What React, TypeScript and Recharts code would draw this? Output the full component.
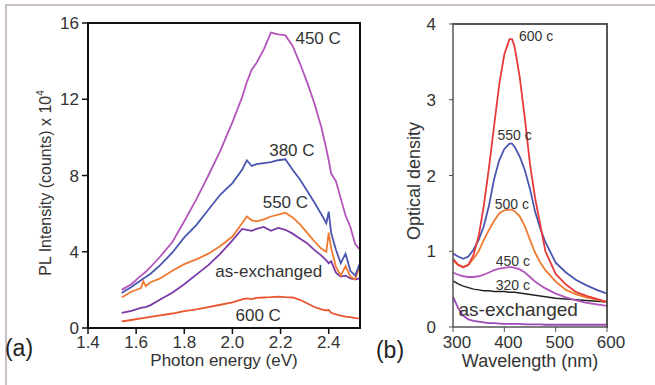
import {
  LineChart,
  Line,
  XAxis,
  YAxis,
  ReferenceDot,
} from "recharts";

// (a) PL spectra, intensity in units of 10^4 counts
const energy = [
  1.54, 1.58, 1.62, 1.63, 1.64, 1.66, 1.7, 1.75, 1.8, 1.85, 1.9, 1.95, 2.0, 2.04, 2.06, 2.08,
  2.1, 2.13, 2.16, 2.19, 2.22, 2.25, 2.28, 2.31, 2.34, 2.37, 2.39, 2.4, 2.41, 2.43, 2.45, 2.47,
  2.49, 2.51, 2.53,
];
const pl450 = [
  2.0, 2.3, 2.75, 2.85, 2.95, 3.2, 3.75, 4.5, 5.6, 6.75, 8.0, 9.3, 10.8, 12.1, 12.9, 13.55,
  13.9, 14.6, 15.5, 15.4, 15.35, 14.8, 13.9, 12.9, 11.8, 10.5, 9.4, 8.8, 8.1, 7.7, 6.8, 5.9,
  5.3, 4.4, 4.1,
];
const pl380 = [
  1.84, 2.15, 2.5, 2.6, 2.68, 2.85, 3.3, 3.95, 4.75, 5.4, 6.2, 7.0, 7.6, 8.3, 8.8, 8.5,
  8.6, 8.65, 8.7, 8.8, 8.85, 8.3, 7.8, 7.2, 6.6, 5.95, 5.5, 6.1, 5.0, 4.1, 3.4, 3.9,
  3.0, 2.75, 3.4,
];
const pl550 = [
  1.6, 1.9, 2.1, 2.45, 2.2, 2.4, 2.6, 3.0, 3.35, 3.6, 3.9, 4.3, 4.8, 5.5, 5.85, 5.65,
  5.6, 5.7, 5.85, 5.95, 6.05, 5.8, 5.45, 5.0, 4.55, 4.15, 4.0, 5.0, 4.2, 3.2, 2.75, 3.25,
  2.7, 2.55, 3.3,
];
const plExchanged = [
  0.79, 0.9, 1.05, 1.08, 1.1, 1.2, 1.5, 1.85, 2.3, 2.8, 3.3, 3.9, 4.6, 5.2, 5.15, 5.1,
  5.2, 5.3, 5.1, 5.25, 5.15, 4.95, 4.7, 4.45, 4.1, 3.8, 3.55, 3.4, 3.5, 2.9, 2.7, 2.75,
  2.6, 2.55, 2.6,
];
const pl600 = [
  0.35, 0.42, 0.5, 0.52, 0.54, 0.58, 0.66, 0.76, 0.88, 0.98, 1.1, 1.22, 1.35, 1.5, 1.55, 1.52,
  1.58, 1.6, 1.62, 1.65, 1.62, 1.6, 1.48, 1.3, 1.1, 0.98, 0.92, 0.95, 0.8, 0.72, 0.65, 0.6,
  0.57, 0.52, 0.5,
];
const energyTicks = [1.4, 1.6, 1.8, 2.0, 2.2, 2.4];
const plTicks = [0, 4, 8, 12, 16];

// (b) optical density spectra
const wavelength = [
  300, 310, 320, 330, 340, 350, 360, 370, 380, 390, 400, 410, 415, 420, 430, 440, 450, 460,
  470, 480, 500, 520, 540, 560, 580, 600,
];
const od600 = [
  0.9, 0.82, 0.79, 0.82, 0.95, 1.2, 1.6, 2.1, 2.65, 3.2, 3.6, 3.8, 3.8, 3.7, 3.3, 2.75, 2.15, 1.7,
  1.35, 1.0, 0.7, 0.56, 0.46, 0.41, 0.37, 0.33,
];
const od550 = [
  0.97, 0.93, 0.9, 0.93, 1.02, 1.15, 1.33, 1.6, 1.95, 2.2, 2.35, 2.42, 2.42, 2.38, 2.25, 2.07,
  1.82, 1.52, 1.3, 1.12, 0.85, 0.72, 0.62, 0.55, 0.49, 0.44,
];
const od500 = [
  0.88, 0.82, 0.79, 0.82, 0.9, 1.0, 1.15, 1.28, 1.4, 1.5, 1.54, 1.55, 1.55, 1.53, 1.46, 1.33,
  1.15, 0.98, 0.85, 0.75, 0.6, 0.49, 0.43, 0.39, 0.36, 0.33,
];
const od450 = [
  0.72, 0.69, 0.67, 0.66, 0.66, 0.67, 0.69, 0.72, 0.75, 0.77, 0.78, 0.79, 0.79, 0.78, 0.76, 0.72,
  0.66, 0.6, 0.55, 0.51, 0.44, 0.39, 0.35, 0.32, 0.3, 0.28,
];
const od320 = [
  0.61, 0.57, 0.54, 0.52, 0.5, 0.49, 0.48, 0.48, 0.47, 0.47, 0.47, 0.46, 0.46, 0.46, 0.45, 0.44,
  0.43, 0.42, 0.41, 0.4, 0.38, 0.37, 0.36, 0.35, 0.34, 0.33,
];
const odExchanged = [
  0.4, 0.25, 0.15, 0.1, 0.08, 0.07, 0.06, 0.05, 0.05, 0.045, 0.04, 0.04, 0.04, 0.04, 0.04, 0.035,
  0.035, 0.035, 0.035, 0.03, 0.03, 0.03, 0.03, 0.03, 0.03, 0.03,
];
const wavelengthTicks = [300, 400, 500, 600];
const odTicks = [0, 1, 2, 3, 4];

const plData = energy.map((e, i) => ({
  e,
  s450: pl450[i],
  s380: pl380[i],
  s550: pl550[i],
  exch: plExchanged[i],
  s600: pl600[i],
}));

const odData = wavelength.map((w, i) => ({
  w,
  s600: od600[i],
  s550: od550[i],
  s500: od500[i],
  s450: od450[i],
  s320: od320[i],
  exch: odExchanged[i],
}));

const FONT = "'Liberation Sans', Arial, sans-serif";
const TEXT = "#333";

function curveLabel(x: number, y: number, text: string, size: number) {
  return (
    <ReferenceDot
      key={text + x}
      x={x}
      y={y}
      r={0}
      stroke="none"
      label={{ value: text, position: "center", fill: TEXT, fontSize: size }}
    />
  );
}

// plain line pieces that close the plot boxes on top and right
function Edge(props: { left: number; top: number; width: number; height: number; color: string }) {
  return (
    <div
      style={{
        position: "absolute",
        zIndex: 5,
        left: props.left,
        top: props.top,
        width: props.width,
        height: props.height,
        background: props.color,
      }}
    />
  );
}

export default function App() {
  return (
    <div
      style={{
        position: "absolute",
        left: 0,
        top: 0,
        width: 655,
        height: 385,
        overflow: "hidden",
        background: "#fff",
        fontFamily: FONT,
      }}
    >
      <div
        style={{
          position: "absolute",
          left: 5,
          top: 4,
          width: 700,
          height: 420,
          borderTop: "2px solid #cbbfcb",
          borderLeft: "2px solid #cbbfcb",
        }}
      />

      <div style={{ position: "absolute", left: 0, top: 0 }}>
        <LineChart
          width={370}
          height={385}
          data={plData}
          margin={{ top: 23, right: 10, bottom: 27, left: 0 }}
        >
          <XAxis
            dataKey="e"
            type="number"
            domain={[1.4, 2.53]}
            ticks={energyTicks}
            tickFormatter={(v: number) => v.toFixed(1)}
            height={30}
            tickSize={6}
            tickMargin={2}
            axisLine={{ stroke: "#111", strokeWidth: 2 }}
            tickLine={{ stroke: "#111", strokeWidth: 1.5 }}
            tick={{ fill: TEXT, fontSize: 17 }}
          />
          <YAxis
            type="number"
            domain={[0, 16]}
            ticks={plTicks}
            width={88}
            tickSize={6}
            tickMargin={3}
            axisLine={{ stroke: "#111", strokeWidth: 2 }}
            tickLine={{ stroke: "#111", strokeWidth: 1.5 }}
            tick={{ fill: TEXT, fontSize: 17 }}
          />
          <Line dataKey="s600" stroke="#e8552e" strokeWidth={1.8} dot={false} isAnimationActive={false} />
          <Line dataKey="exch" stroke="#7a3aa8" strokeWidth={1.8} dot={false} isAnimationActive={false} />
          <Line dataKey="s550" stroke="#f07a30" strokeWidth={1.8} dot={false} isAnimationActive={false} />
          <Line dataKey="s380" stroke="#4a56b0" strokeWidth={1.8} dot={false} isAnimationActive={false} />
          <Line dataKey="s450" stroke="#b455bc" strokeWidth={1.8} dot={false} isAnimationActive={false} />
          {curveLabel(2.356, 15.23, "450 C", 17)}
          {curveLabel(2.247, 9.35, "380 C", 17)}
          {curveLabel(2.22, 6.63, "550 C", 17)}
          {curveLabel(2.151, 2.99, "as-exchanged", 17)}
          {curveLabel(2.107, 0.7, "600 C", 17)}
        </LineChart>
      </div>
      <Edge left={87} top={22} width={274} height={2} color="#111" />
      <Edge left={359} top={22} width={2} height={307} color="#111" />

      <div style={{ position: "absolute", left: 370, top: 0 }}>
        <LineChart
          width={285}
          height={385}
          data={odData}
          margin={{ top: 24, right: 48, bottom: 28, left: 0 }}
        >
          <XAxis
            dataKey="w"
            type="number"
            domain={[300, 600]}
            ticks={wavelengthTicks}
            height={30}
            tickSize={5}
            tickMargin={4}
            axisLine={{ stroke: "#555", strokeWidth: 1.5 }}
            tickLine={{ stroke: "#555" }}
            tick={{ fill: TEXT, fontSize: 17, dx: 4 }}
          />
          <YAxis
            type="number"
            domain={[0, 4]}
            ticks={odTicks}
            width={83}
            tickSize={4}
            tickMargin={13}
            axisLine={{ stroke: "#555", strokeWidth: 1.5 }}
            tickLine={{ stroke: "#555" }}
            tick={{ fill: TEXT, fontSize: 17 }}
          />
          <Line dataKey="exch" stroke="#9a48b8" strokeWidth={1.8} dot={false} isAnimationActive={false} />
          <Line dataKey="s320" stroke="#222" strokeWidth={1.5} dot={false} isAnimationActive={false} />
          <Line dataKey="s450" stroke="#b455bc" strokeWidth={1.8} dot={false} isAnimationActive={false} />
          <Line dataKey="s500" stroke="#f07a30" strokeWidth={1.8} dot={false} isAnimationActive={false} />
          <Line dataKey="s550" stroke="#4a56b0" strokeWidth={1.8} dot={false} isAnimationActive={false} />
          <Line dataKey="s600" stroke="#e83a3a" strokeWidth={1.8} dot={false} isAnimationActive={false} />
          {curveLabel(462, 3.84, "600 c", 14)}
          {curveLabel(420, 2.53, "550 c", 14)}
          {curveLabel(414.5, 1.62, "500 c", 14)}
          {curveLabel(416.5, 0.87, "450 c", 14)}
          {curveLabel(416.5, 0.56, "320 c", 14)}
          {curveLabel(427, 0.23, "as-exchanged", 19)}
        </LineChart>
      </div>
      <Edge left={452} top={23} width={156} height={2} color="#555" />
      <Edge left={606} top={23} width={2} height={305} color="#555" />

      <div
        style={{
          position: "absolute",
          left: 45,
          top: 183,
          transform: "translate(-50%, -50%) rotate(-90deg)",
          whiteSpace: "nowrap",
          fontSize: 16,
          color: TEXT,
        }}
      >
        PL Intensity (counts) x 10<sup style={{ fontSize: 10 }}>4</sup>
      </div>
      <div
        style={{
          position: "absolute",
          left: 224,
          top: 361,
          transform: "translate(-50%, -50%)",
          whiteSpace: "nowrap",
          fontSize: 17,
          color: TEXT,
        }}
      >
        Photon energy (eV)
      </div>
      <div
        style={{
          position: "absolute",
          left: 414,
          top: 181,
          transform: "translate(-50%, -50%) rotate(-90deg)",
          whiteSpace: "nowrap",
          fontSize: 18,
          color: TEXT,
        }}
      >
        Optical density
      </div>
      <div
        style={{
          position: "absolute",
          left: 530,
          top: 361,
          transform: "translate(-50%, -50%)",
          whiteSpace: "nowrap",
          fontSize: 18,
          color: TEXT,
        }}
      >
        Wavelength (nm)
      </div>
      <div
        style={{
          position: "absolute",
          left: 19,
          top: 348,
          transform: "translate(-50%, -50%)",
          fontSize: 23,
          color: "#222",
        }}
      >
        (a)
      </div>
      <div
        style={{
          position: "absolute",
          left: 390,
          top: 350,
          transform: "translate(-50%, -50%)",
          fontSize: 23,
          color: "#222",
        }}
      >
        (b)
      </div>
    </div>
  );
}
